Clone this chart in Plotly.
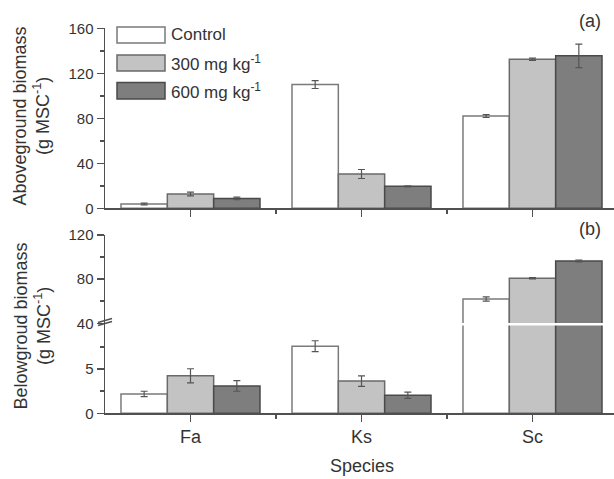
import plotly.graph_objects as go

W, H = 614, 479

species = ["Fa", "Ks", "Sc"]
treatments = ["Control", "300 mg kg<sup>-1</sup>", "600 mg kg<sup>-1</sup>"]

above_control = [3.8, 110, 82]
above_control_err = [0.8, 3.5, 1.3]
above_300 = [12.7, 30.5, 132.5]
above_300_err = [1.6, 4.0, 1.0]
above_600 = [8.8, 19.5, 135.5]
above_600_err = [1.2, 0.4, 10.5]

below_control = [2.2, 7.6, 62]
below_control_err = [0.3, 0.62, 2.0]
below_300 = [4.25, 3.65, 80.8]
below_300_err = [0.8, 0.6, 0.6]
below_600 = [3.1, 2.05, 96.5]
below_600_err = [0.6, 0.35, 0.8]

fills = ["#ffffff", "#c3c3c3", "#7e7e7e"]
edges = ["#7a7a7a", "#6a6a6a", "#4a4a4a"]

def px(x):
    return x / W

def py(y):
    return 1 - y / H

xs = list(range(len(species)))

fig = go.Figure()

above = [(above_control, above_control_err), (above_300, above_300_err), (above_600, above_600_err)]
below = [(below_control, below_control_err), (below_300, below_300_err), (below_600, below_600_err)]

for i, (vals, errs) in enumerate(above):
    fig.add_trace(go.Bar(x=xs, y=vals, xaxis="x", yaxis="y", offsetgroup=str(i),
                         marker=dict(color=fills[i], line=dict(color=edges[i], width=1.5)),
                         error_y=dict(type="data", array=errs, color="#555555", thickness=1.2, width=3.5),
                         showlegend=False, hoverinfo="skip"))
for yax in ["y2", "y3"]:
    for i, (vals, errs) in enumerate(below):
        fig.add_trace(go.Bar(x=xs, y=vals, xaxis="x2", yaxis=yax, offsetgroup=str(i),
                             marker=dict(color=fills[i], line=dict(color=edges[i], width=1.5)),
                             error_y=dict(type="data", array=errs, color="#555555", thickness=1.2, width=3.5),
                             showlegend=False, hoverinfo="skip"))

axcol = "#505050"
tickfont = dict(family="Liberation Sans, Arial, sans-serif", size=15, color="#333333")
catfont = dict(family="Liberation Sans, Arial, sans-serif", size=18, color="#333333")

xdom = [px(105), 1]
xrange_ = [-0.5, -0.5 + 509 / 171]

common_x = dict(range=xrange_, domain=xdom, showline=True, linecolor=axcol, linewidth=1.5,
                ticks="outside", ticklen=7, tickcolor=axcol, tickwidth=1.5,
                tickvals=xs, ticktext=species, showgrid=False, zeroline=False, automargin=False,
                minor=dict(tickvals=[0.5, 1.5], ticks="outside", ticklen=4, tickcolor=axcol, tickwidth=1.5),
                fixedrange=True)

common_y = dict(showline=True, linecolor=axcol, linewidth=1.5, ticks="outside", ticklen=7,
                tickcolor=axcol, tickwidth=1.5, showgrid=False, zeroline=False, tickfont=tickfont,
                automargin=False, fixedrange=True)

fig.update_layout(
    width=W, height=H,
    margin=dict(l=0, r=0, t=0, b=0, autoexpand=False),
    paper_bgcolor="white", plot_bgcolor="white",
    barmode="group", bargap=0.187, bargroupgap=0,
    font=dict(family="Liberation Sans, Arial, sans-serif", color="#333333"),
    xaxis=dict(**common_x, anchor="y", showticklabels=False),
    xaxis2=dict(**common_x, anchor="y2", showticklabels=True, tickfont=catfont, matches="x"),
    yaxis=dict(**common_y, domain=[py(208.3), py(28.3)], range=[0, 160], anchor="x",
               tickvals=[0, 40, 80, 120, 160],
               minor=dict(tickvals=[20, 60, 100, 140], ticks="outside", ticklen=4, tickcolor=axcol, tickwidth=1.5)),
    yaxis2=dict(**common_y, domain=[py(413.3), py(323.3)], range=[0, 10.2], anchor="x2",
                tickvals=[0, 5],
                minor=dict(tickvals=[2.5, 7.5], ticks="outside", ticklen=4, tickcolor=axcol, tickwidth=1.5)),
    yaxis3=dict(**common_y, domain=[py(323.3), py(235)], range=[40, 120], anchor="x2",
                tickvals=[40, 80, 120],
                minor=dict(tickvals=[60, 100], ticks="outside", ticklen=4, tickcolor=axcol, tickwidth=1.5)),
)

shapes = []
# white break line across bars
shapes.append(dict(type="line", xref="paper", yref="paper", x0=px(106.5), x1=1, y0=py(324.3), y1=py(324.3),
                   line=dict(color="white", width=2.5), layer="above"))
# break marks on the axis
for dy in (0, 3):
    shapes.append(dict(type="line", xref="paper", yref="paper", x0=px(98), x1=px(112),
                       y0=py(322.5 + dy), y1=py(318.5 + dy), line=dict(color=axcol, width=1.5), layer="above"))

# legend boxes
legend_y = [(27, 43), (55, 71), (82.5, 99)]
for i, (y0, y1) in enumerate(legend_y):
    shapes.append(dict(type="rect", xref="paper", yref="paper", x0=px(117), x1=px(165),
                       y0=py(y1), y1=py(y0), fillcolor=fills[i], line=dict(color=edges[i], width=1.5)))
fig.update_layout(shapes=shapes)

ann = []
for i, (y0, y1) in enumerate(legend_y):
    ann.append(dict(text=treatments[i], xref="paper", yref="paper", x=px(169), y=py((y0 + y1) / 2),
                    xanchor="left", yanchor="middle", showarrow=False,
                    font=dict(size=17, color="#333333")))
ann.append(dict(text="(a)", xref="paper", yref="paper", x=px(590), y=py(21), xanchor="center", yanchor="middle",
                showarrow=False, font=dict(size=18, color="#333333")))
ann.append(dict(text="(b)", xref="paper", yref="paper", x=px(590), y=py(229), xanchor="center", yanchor="middle",
                showarrow=False, font=dict(size=18, color="#333333")))
ann.append(dict(text="Aboveground biomass<br>(g MSC<sup>-1</sup>)", xref="paper", yref="paper",
                x=px(31), y=py(116.5), xanchor="center", yanchor="middle", textangle=-90,
                showarrow=False, font=dict(size=18, color="#333333")))
ann.append(dict(text="Belowgroud biomass<br>(g MSC<sup>-1</sup>)", xref="paper", yref="paper",
                x=px(32), y=py(326.5), xanchor="center", yanchor="middle", textangle=-90,
                showarrow=False, font=dict(size=18, color="#333333")))
ann.append(dict(text="Species", xref="paper", yref="paper", x=px(362), y=py(466), xanchor="center",
                yanchor="middle", showarrow=False, font=dict(size=18, color="#333333")))
fig.update_layout(annotations=ann)

fig.write_html("out.html", config={"displayModeBar": False, "staticPlot": True},
               post_script="document.body.style.margin='0';document.body.style.overflow='hidden';")
